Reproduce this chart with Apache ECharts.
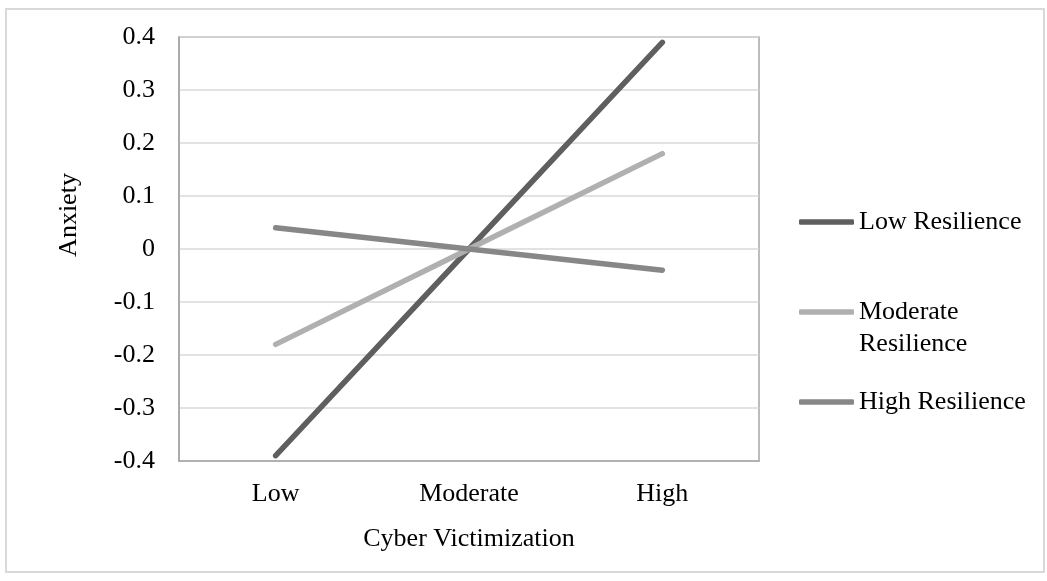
<!DOCTYPE html>
<html>
<head>
<meta charset="utf-8">
<script src="https://cdn.jsdelivr.net/npm/echarts@6/dist/echarts.min.js"></script>
<style>html,body{margin:0;padding:0;background:#fff;}#c{width:1047px;height:581px;}</style>
</head>
<body>
<div id="c"></div>
<script>
var categories = ['Low', 'Moderate', 'High'];
var seriesNames = ['Low Resilience', 'Moderate Resilience', 'High Resilience'];
var lowResilience = [-0.39, 0, 0.39];
var moderateResilience = [-0.18, 0, 0.18];
var highResilience = [0.04, 0, -0.04];
var colors = ['#5f5f5f', '#b0b0b0', '#878787'];
var xTitle = 'Cyber Victimization';
var yTitle = 'Anxiety';

var font = 'Liberation Serif';
var chart = echarts.init(document.getElementById('c'));
function mk(name, data, color) {
  return {
    name: name, type: 'line', data: data, symbol: 'none', color: color,
    lineStyle: { width: 5.5, color: color, cap: 'round' }
  };
}
chart.setOption({
  animation: false,
  color: colors,
  grid: { left: 179, top: 37, width: 580, height: 424, show: true, borderColor: '#a6a6a6', borderWidth: 1.5 },
  graphic: [
    { type: 'rect', shape: { x: 6, y: 9, width: 1038, height: 563 }, style: { fill: 'none', stroke: '#d9d9d9', lineWidth: 2 }, z: -1 },
    { type: 'text', x: 69, y: 215, rotation: Math.PI / 2, style: { text: yTitle, font: '26px "' + font + '"', fill: '#000', textAlign: 'center', textVerticalAlign: 'middle' } },
    { type: 'text', x: 469, y: 539, style: { text: xTitle, font: '26px "' + font + '"', fill: '#000', textAlign: 'center', textVerticalAlign: 'middle' } }
  ],
  legend: {
    orient: 'vertical', left: 794, top: 201, itemWidth: 55, itemHeight: 5.5, itemGap: 26,
    icon: 'roundRect',
    data: seriesNames,
    formatter: function (n) { return n === 'Moderate Resilience' ? '\nModerate\nResilience' : n; },
    textStyle: { fontFamily: font, fontSize: 26, color: '#000', lineHeight: 32 }
  },
  xAxis: {
    type: 'category', data: categories, boundaryGap: true,
    axisLine: { show: true, onZero: false, lineStyle: { color: '#a6a6a6', width: 1.5 } },
    axisTick: { show: false },
    axisLabel: { fontFamily: font, fontSize: 26, color: '#000', margin: 20 }
  },
  yAxis: {
    type: 'value', min: -0.4, max: 0.4, interval: 0.1,
    axisLine: { show: true, lineStyle: { color: '#a6a6a6', width: 1.5 } },
    axisTick: { show: false },
    splitLine: { lineStyle: { color: '#d9d9d9', width: 1.5 } },
    axisLabel: { fontFamily: font, fontSize: 26, color: '#000', margin: 24,
      formatter: function (v) { return Math.abs(v) < 1e-9 ? '0' : v.toFixed(1); } }
  },
  series: [
    mk(seriesNames[0], lowResilience, colors[0]),
    mk(seriesNames[1], moderateResilience, colors[1]),
    mk(seriesNames[2], highResilience, colors[2])
  ]
});
</script>
</body>
</html>
